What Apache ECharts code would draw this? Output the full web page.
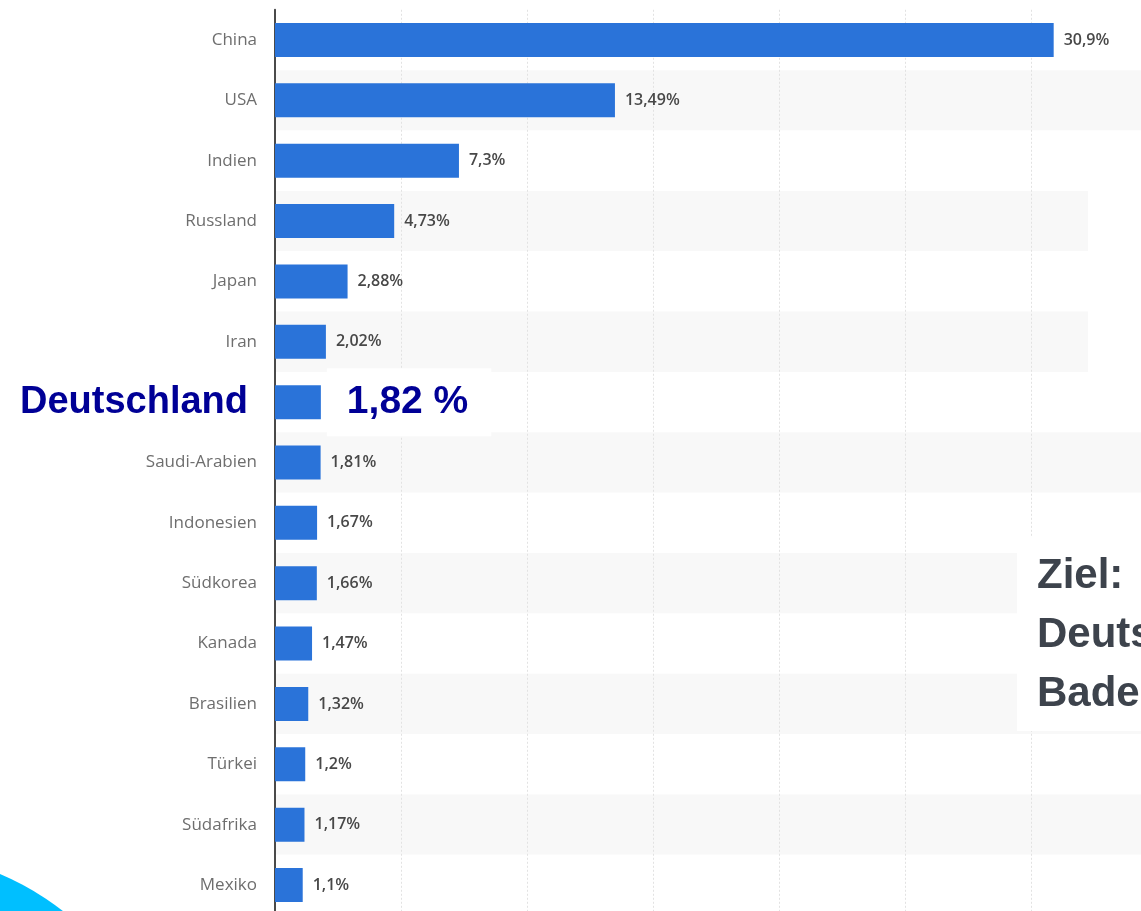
<!DOCTYPE html>
<html>
<head>
<meta charset="utf-8">
<script src="https://cdn.jsdelivr.net/npm/echarts@6/dist/echarts.min.js"></script>
<style>
  html, body { margin: 0; padding: 0; background: #fff; }
  #chart { width: 1141px; height: 911px; }
</style>
</head>
<body>
<div id="chart"></div>
<script>
// ---- data ----
const categories = ['China', 'USA', 'Indien', 'Russland', 'Japan', 'Iran', 'Deutschland', 'Saudi-Arabien', 'Indonesien', 'Südkorea', 'Kanada', 'Brasilien', 'Türkei', 'Südafrika', 'Mexiko'];
const shares = [30.9, 13.49, 7.3, 4.73, 2.88, 2.02, 1.82, 1.81, 1.67, 1.66, 1.47, 1.32, 1.2, 1.17, 1.1];
const highlightCategory = 'Deutschland';
const axisMax = 35;
const axisStep = 5;
const noteLines = ['Ziel:', 'Deutschland', 'Baden-Württemberg'];

function fmt(v, isHighlight) {
  return String(v).replace('.', ',') + (isHighlight ? ' %' : '%');
}

const seriesData = shares.map((v, i) => {
  if (categories[i] !== highlightCategory) return v;
  return {
    value: v,
    label: {
      fontFamily: '"Liberation Sans", Arial, sans-serif',
      fontWeight: 'bold',
      fontSize: 39,
      color: '#000096',
      backgroundColor: '#ffffff',
      lineHeight: 40,
      padding: [16, 23, 12, 20],
      distance: 6
    }
  };
});

const chart = echarts.init(document.getElementById('chart'), null, { renderer: 'canvas' });
chart.setOption({
  animation: false,
  backgroundColor: '#ffffff',
  grid: { left: 275, right: -16, top: 9.8, bottom: -4.2, containLabel: false, outerBoundsMode: 'none' },
  xAxis: {
    type: 'value',
    min: 0,
    max: axisMax,
    interval: axisStep,
    axisLine: { show: false },
    axisTick: { show: false },
    axisLabel: { show: false },
    splitLine: { show: true, lineStyle: { color: '#e2e2e2', width: 1, type: [2, 2] } }
  },
  yAxis: {
    type: 'category',
    data: categories,
    inverse: true,
    axisLine: { show: true, lineStyle: { color: '#4a4a4a', width: 2 } },
    axisTick: { show: false },
    splitArea: { show: true, areaStyle: { color: ['#ffffff', '#f8f8f8'] } },
    axisLabel: {
      margin: 18,
      fontFamily: '"Open Sans", sans-serif',
      fontSize: 17,
      color: '#6e6e6e',
      formatter: v => v === highlightCategory ? '{de|' + v + '}' : v,
      rich: {
        de: {
          fontFamily: '"Liberation Sans", Arial, sans-serif',
          fontWeight: 'bold',
          fontSize: 38,
          color: '#000096',
          padding: [0, 9, 0, 0]
        }
      }
    }
  },
  series: [{
    type: 'bar',
    data: seriesData,
    barWidth: 34,
    itemStyle: { color: '#2a73d9' },
    label: {
      show: true,
      position: 'right',
      distance: 10,
      fontFamily: '"Open Sans", sans-serif',
      fontWeight: 600,
      fontSize: 16,
      color: '#484848',
      formatter: p => fmt(p.value, categories[p.dataIndex] === highlightCategory)
    }
  }],
  graphic: [
    { type: 'rect', z: 100, shape: { x: 1088, y: 191, width: 60, height: 241 }, style: { fill: '#ffffff' } },
    { type: 'rect', z: 100, shape: { x: 1017, y: 537, width: 130, height: 194 }, style: { fill: '#ffffff' } },
    {
      type: 'text', z: 101, x: 1037, y: 547,
      style: {
        text: noteLines.join('\n'),
        font: 'bold 42px "Liberation Sans", Arial, sans-serif',
        lineHeight: 59,
        fill: '#3d434c',
        verticalAlign: 'top',
        align: 'left'
      }
    },
    { type: 'circle', z: 100, shape: { cx: -108, cy: 1129, r: 277 }, style: { fill: '#00bfff' } }
  ]
});
</script>
</body>
</html>
